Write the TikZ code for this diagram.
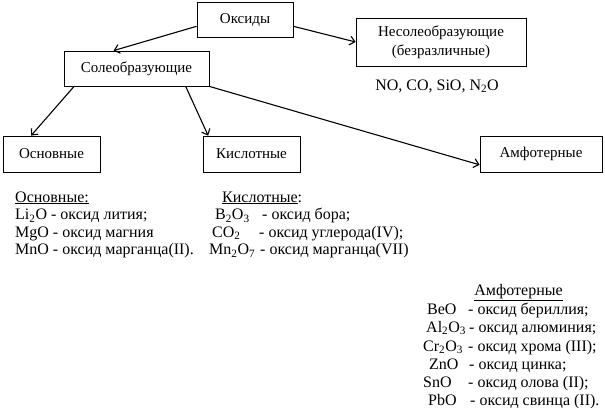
\documentclass[tikz,border=0pt]{standalone}
\usepackage{fontspec}
\setmainfont{Liberation Serif}
\usetikzlibrary{arrows.meta}
\tikzstyle{box}=[draw,line width=0.8pt,inner sep=0pt,font=\fontsize{15}{19}\selectfont]
\tikzstyle{edge}=[draw,line width=1.1pt,-{Straight Barb[length=5pt,width=9pt]}]
\tikzstyle{item}=[inner sep=0pt,anchor=base west,font=\fontsize{16}{18}\selectfont]

\begin{document}
\begin{tikzpicture}[x=1pt,y=-1pt]
\useasboundingbox (0,0) rectangle (605,407);

     \foreach \pos/\name/\w/\h/\label in {{(245,19.5)/oxides/96/35/Оксиды}, {(136.5,68.5)/salt/145/35/Солеобразующие},
        {(51.5,154)/basic/97/36/Основные}, {(251.5,154)/acid/97/36/Кислотные}, {(541,154)/amph/122/36/Амфотерные}}
        \node[box,minimum width=\w,minimum height=\h] (\name) at \pos {\label};

     \node[box,minimum width=170,minimum height=48,align=center] (nonsalt) at (441,42) {Несолеобразующие\\(безразличные)};
     \node[item,anchor=base] (nonsaltex) at (437,90) {NO, CO, SiO, N\textsubscript{2}O};

  \foreach \source/\dest in {oxides.188/salt.142, oxides.352/nonsalt.west, salt.196/basic.138, salt.340/acid.157, salt.south east/amph.190}
        \path[edge] (\source) -- (\dest);

     % основные
     \node[item] (basichead) at (15,202) {\underline{Основные:}};
     \foreach \y/\name/\label in {219.5/li2o/{Li\textsubscript{2}O - оксид лития;}, 237/mgo/{MgO - оксид магния}, 254.5/mno/{MnO - оксид марганца(II).}}
        \node[item] (\name) at (15,\y) {\label};

     % кислотные
     \node[item] (acidhead) at (222,202) {\underline{Кислотные}:};
     \foreach \fx/\dx/\y/\name/\frm/\txt in {215/262/219.5/b2o3/{B\textsubscript{2}O\textsubscript{3}}/{- оксид бора;},
        212/259/237/co2/{CO\textsubscript{2}}/{- оксид углерода(IV);}, 209/260/254.5/mn2o7/{Mn\textsubscript{2}O\textsubscript{7}}/{- оксид марганца(VII)}}
      { \node[item] (\name) at (\fx,\y) {\frm};
        \node[item] (\name-d) at (\dx,\y) {\txt}; }

     % амфотерные
     \node[item,anchor=base] (amphhead) at (518.5,295) {\underline{Амфотерные}};
     \foreach \fx/\dx/\y/\name/\frm/\txt in {427/468/314/beo/{BeO}/{- оксид бериллия;},
        426/469/332/al2o3/{Al\textsubscript{2}O\textsubscript{3}}/{- оксид алюминия;}, 423/468/351/cr2o3/{Cr\textsubscript{2}O\textsubscript{3}}/{- оксид хрома (III);},
        429/469/369/zno/{ZnO}/{- оксид цинка;}, 423/468/387/sno/{SnO}/{- оксид олова (II);}, 428/470/405/pbo/{PbO}/{- оксид свинца (II).}}
      { \node[item] (\name) at (\fx,\y) {\frm};
        \node[item] (\name-d) at (\dx,\y) {\txt}; }

\end{tikzpicture}
\end{document}
